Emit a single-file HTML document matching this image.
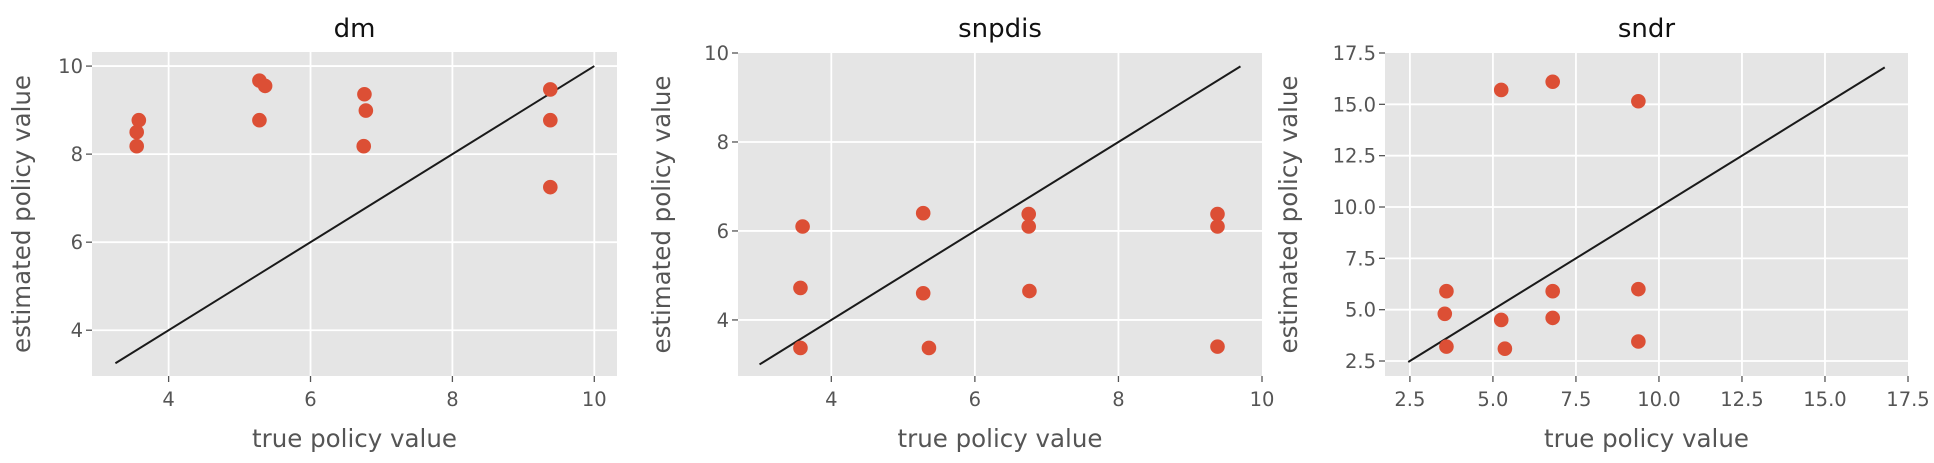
<!DOCTYPE html>
<html><head><meta charset="utf-8"><style>
html,body{margin:0;padding:0;background:#fff;}
svg{display:block;font-family:"DejaVu Sans","Liberation Sans",sans-serif;}
</style></head><body>
<svg id="fig" width="1934" height="463" viewBox="0 0 1934 463" xmlns="http://www.w3.org/2000/svg"></svg>
<script>
const titles = ["dm", "snpdis", "sndr"];
const trueX_dm = [3.58, 3.55, 3.55, 5.28, 5.36, 5.28, 6.76, 6.78, 6.75, 9.38, 9.38, 9.38];
const est_dm = [8.77, 8.5, 8.18, 9.67, 9.55, 8.77, 9.36, 8.99, 8.18, 9.47, 8.77, 7.25];
const trueX_snpdis = [3.6, 3.57, 3.57, 5.28, 5.28, 5.36, 6.75, 6.75, 6.76, 9.38, 9.38, 9.38];
const est_snpdis = [6.1, 4.72, 3.37, 6.4, 4.6, 3.37, 6.38, 6.1, 4.65, 6.38, 6.1, 3.4];
const trueX_sndr = [3.6, 3.55, 3.6, 5.25, 5.25, 5.36, 6.8, 6.8, 6.8, 9.38, 9.38, 9.38];
const est_sndr = [5.9, 4.8, 3.2, 15.7, 4.5, 3.1, 16.1, 5.9, 4.6, 15.15, 6.0, 3.45];
const xTicks_dm = [4, 6, 8, 10];
const yTicks_dm = [4, 6, 8, 10];
const xTicks_snpdis = [4, 6, 8, 10];
const yTicks_snpdis = [4, 6, 8, 10];
const xTicks_sndr = [2.5, 5.0, 7.5, 10.0, 12.5, 15.0, 17.5];
const yTicks_sndr = [2.5, 5.0, 7.5, 10.0, 12.5, 15.0, 17.5];
const diag_dm = [3.25, 10];
const diag_snpdis = [3.0, 9.7];
const diag_sndr = [2.45, 16.8];

const NS = "http://www.w3.org/2000/svg";
const svg = document.getElementById("fig");
function mk(tag, attrs, parent) {
  const e = document.createElementNS(NS, tag);
  for (const k in attrs) e.setAttribute(k, attrs[k]);
  (parent || svg).appendChild(e);
  return e;
}
const panels = [
  {name:"dm", box:[92,617,52,376], xd:[2.92,10.32], yd:[2.96,10.32], xs:trueX_dm, ys:est_dm, xt:xTicks_dm, yt:yTicks_dm, diag:diag_dm, dec:0, ylx:30},
  {name:"snpdis", box:[738,1262,53,376], xd:[2.70,10.0], yd:[2.74,10.0], xs:trueX_snpdis, ys:est_snpdis, xt:xTicks_snpdis, yt:yTicks_snpdis, diag:diag_snpdis, dec:0, ylx:670},
  {name:"sndr", box:[1385,1908,53,376], xd:[1.75,17.5], yd:[1.77,17.5], xs:trueX_sndr, ys:est_sndr, xt:xTicks_sndr, yt:yTicks_sndr, diag:diag_sndr, dec:1, ylx:1297}
];
panels.forEach(p => {
  const [L,R,T,B] = p.box;
  const sx = v => L + (v - p.xd[0]) / (p.xd[1] - p.xd[0]) * (R - L);
  const sy = v => B - (v - p.yd[0]) / (p.yd[1] - p.yd[0]) * (B - T);
  const g = mk("g", {});
  
  
  const bg = mk("rect", {x:L, y:T, width:R-L, height:B-T, fill:"#e5e5e5"}, g);
  
  
  p.xt.forEach(t => {
    const x = sx(t);
    if (x > L && x < R) {
      const gl = mk("line", {x1:x, x2:x, y1:T, y2:B, stroke:"#fff", "stroke-width":1.8}, g);
      
      
    }
    mk("line", {x1:x, x2:x, y1:B, y2:B+6, stroke:"#555", "stroke-width":1.3}, g);
    const tl = mk("text", {x:x, y:B+30, "text-anchor":"middle", "font-size":19.5, fill:"#555"}, g);
    tl.textContent = p.dec ? t.toFixed(1) : String(t);
    
    
  });
  p.yt.forEach(t => {
    const y = sy(t);
    if (y > T && y < B) {
      const gl = mk("line", {x1:L, x2:R, y1:y, y2:y, stroke:"#fff", "stroke-width":1.8}, g);
      
      
    }
    mk("line", {x1:L-6, x2:L, y1:y, y2:y, stroke:"#555", "stroke-width":1.3}, g);
    const tl = mk("text", {x:L-9, y:y+7, "text-anchor":"end", "font-size":19.5, fill:"#555"}, g);
    tl.textContent = p.dec ? t.toFixed(1) : String(t);
    
    
  });
  const dl = mk("line", {x1:sx(p.diag[0]), y1:sy(p.diag[0]), x2:sx(p.diag[1]), y2:sy(p.diag[1]), stroke:"#1a1a1a", "stroke-width":2}, g);
  
  
  p.xs.forEach((xv, i) => {
    const c = mk("circle", {cx:sx(xv), cy:sy(p.ys[i]), r:7.3, fill:"#dc4f35"}, g);
    
    
  });
  const ti = mk("text", {x:(L+R)/2, y:37, "text-anchor":"middle", "font-size":26, fill:"#111"}, g);
  ti.textContent = p.name;
  
  
  const xl = mk("text", {x:(L+R)/2, y:447, "text-anchor":"middle", "font-size":24.5, fill:"#555"}, g);
  xl.textContent = "true policy value";
  
  
  const yl = mk("text", {x:0, y:0, "text-anchor":"middle", "font-size":24.5, fill:"#555", transform:`translate(${p.ylx},${(T+B)/2}) rotate(-90)`}, g);
  yl.textContent = "estimated policy value";
  
  
});
</script>
</body></html>
